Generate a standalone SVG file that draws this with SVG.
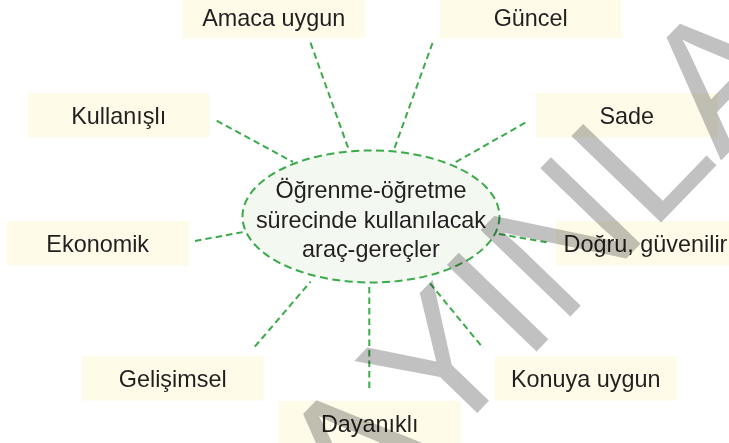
<svg xmlns="http://www.w3.org/2000/svg" width="729" height="443" viewBox="0 0 729 443">
<style>
.box{fill:#fefbe9}
.lbl{font-family:"Liberation Sans",Arial,Helvetica,sans-serif;font-size:23.4px;fill:#231f20;text-anchor:middle}
.dash{fill:none;stroke:#3bab4a;stroke-width:2;stroke-dasharray:6.5 4}
.oval{fill:#f3f8f1;stroke:#3bab4a;stroke-width:2;stroke-dasharray:8 4.5}
.wm{font-family:"Liberation Sans",Arial,Helvetica,sans-serif;font-size:181px;fill:#c1c1c1;mix-blend-mode:multiply;font-kerning:none;font-feature-settings:"kern" 0}
</style>
<rect width="729" height="443" fill="#ffffff"/>
<g id="connectors">
<line class="dash" x1="310.5" y1="42.7" x2="348.7" y2="149.5"/>
<line class="dash" x1="432.5" y1="43" x2="394" y2="149.5"/>
<line class="dash" x1="216.7" y1="120.7" x2="293" y2="162"/>
<line class="dash" x1="525.3" y1="122.7" x2="453.3" y2="163.5"/>
<line class="dash" x1="195" y1="241" x2="245" y2="231.7"/>
<line class="dash" x1="546.7" y1="242.3" x2="495" y2="233.3"/>
<line class="dash" x1="254.8" y1="346.7" x2="310.6" y2="281.7"/>
<line class="dash" x1="369.3" y1="287" x2="369.3" y2="388.3"/>
<line class="dash" x1="430" y1="283.3" x2="483.3" y2="348.3"/>
</g>
<g id="center">
<ellipse class="oval" cx="371" cy="216.5" rx="128.5" ry="66"/>
<text class="lbl" x="371" y="198.3">Öğrenme-öğretme</text>
<text class="lbl" x="371" y="227.5">sürecinde kullanılacak</text>
<text class="lbl" x="371" y="256.7">araç-gereçler</text>
</g>
<g id="amaca"><rect class="box" x="183" y="-6" width="181.5" height="44.5"/><text class="lbl" x="273.7" y="26">Amaca uygun</text></g>
<g id="guncel"><rect class="box" x="440" y="-6" width="181.5" height="44.5"/><text class="lbl" x="530.7" y="26">Güncel</text></g>
<g id="kullanisli"><rect class="box" x="28" y="93" width="181.5" height="44.5"/><text class="lbl" x="118.7" y="124">Kullanışlı</text></g>
<g id="sade"><rect class="box" x="536" y="93" width="181.5" height="44.5"/><text class="lbl" x="626.7" y="124">Sade</text></g>
<g id="ekonomik"><rect class="box" x="7" y="221" width="181.5" height="44.5"/><text class="lbl" x="97.7" y="252.3">Ekonomik</text></g>
<g id="dogru"><rect class="box" x="556" y="221" width="181.5" height="44.5"/><text class="lbl" x="645.5" y="252.3">Doğru, güvenilir</text></g>
<g id="gelisimsel"><rect class="box" x="82" y="356" width="181.5" height="44.5"/><text class="lbl" x="172.7" y="387.3">Gelişimsel</text></g>
<g id="konuya"><rect class="box" x="495" y="356" width="181.5" height="44.5"/><text class="lbl" x="585.7" y="387.3">Konuya uygun</text></g>
<g id="dayanikli"><rect class="box" x="279" y="401" width="181.5" height="44.5"/><text class="lbl" x="369.7" y="432.3">Dayanıklı</text></g>
<text class="wm" x="0" y="0" transform="translate(273.4,624) rotate(-46)">YAYINLARI</text>
</svg>
